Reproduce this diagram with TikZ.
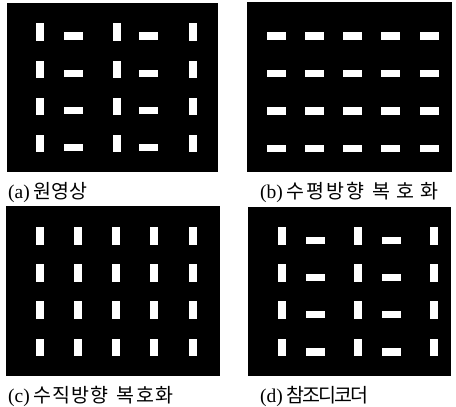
\documentclass[tikz,border=0pt]{standalone}
\usepackage{fontspec}
\setmainfont{Liberation Serif}
\newfontfamily\kr{Noto Sans CJK KR}
\begin{document}
\begin{tikzpicture}[x=1pt,y=-1pt,
  panel/.style={fill=black},
  bar/.style={fill=white},
  lab/.style={anchor=base west,inner sep=0pt,font=\fontsize{19.5}{22}\selectfont}]
\useasboundingbox[fill=white] (0,0) rectangle (456,407);
% panels
\fill[panel] (7,3) rectangle (218,172);
\fill[panel] (247,2) rectangle (452,172);
\fill[panel] (6,206) rectangle (220,376);
\fill[panel] (248,207) rectangle (451,376);
% (a) original
\foreach \y in {23,60.5,97.5,134.5}{
  \foreach \x in {36,113,189}{\fill[bar] (\x,\y) rectangle ++(7.5,17.5);}
  \foreach \x in {64,139}{\fill[bar] (\x,\y+9) rectangle ++(19,7.5);}
}
% (b) horizontal decoding
\foreach \y in {32,69.5,107,144.5}{
  \foreach \x in {267,305,343,381,420}{\fill[bar] (\x,\y) rectangle ++(18.5,7.5);}
}
% (c) vertical decoding
\foreach \y in {227,264,301,338.5}{
  \foreach \x in {36,73.5,112,150,188.5}{\fill[bar] (\x,\y) rectangle ++(8,17.5);}
}
% (d) reference decoder
\foreach \y in {227,264,301,338.5}{
  \foreach \x in {278,354,430}{\fill[bar] (\x,\y) rectangle ++(8,17.5);}
  \foreach \x in {306,382}{\fill[bar] (\x,\y+9.5) rectangle ++(19,7.5);}
}
% labels
\node[lab] (la) at (8,198) {(a)\hspace{4pt}{\kr 원영상}};
\node[lab] (lb) at (260,198) {(b)\hspace{4pt}{\kr 수\kern2pt평\kern2pt방\kern2pt향\hspace{8pt}복\kern6pt호\kern6pt화}};
\node[lab] (lc) at (8,402) {(c)\hspace{4pt}{\kr 수\kern1pt직\kern1pt방\kern1pt향\hspace{8pt}복\kern1.5pt호\kern1.5pt화}};
\node[lab] (ld) at (260,402) {(d)\hspace{4pt}{\kr 참\kern-2pt조\kern-2pt디\kern-2pt코\kern-2pt더}};
\end{tikzpicture}
\end{document}
